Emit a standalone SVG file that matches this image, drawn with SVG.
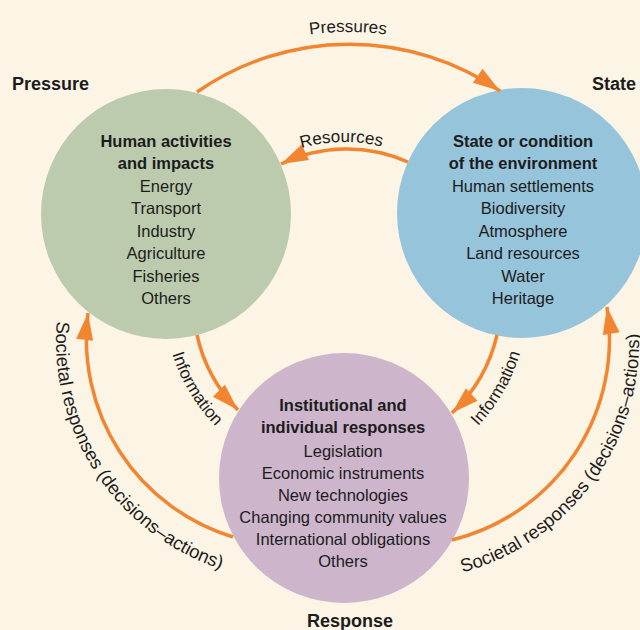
<svg xmlns="http://www.w3.org/2000/svg" width="640" height="630" viewBox="0 0 640 630">
<style>
.bg{fill:#fcf4e4}
.t{font-family:"Liberation Sans",Arial,sans-serif;font-size:16.5px;fill:#1c1c1c;text-anchor:middle}
.b{font-weight:bold}
.h{font-family:"Liberation Sans",Arial,sans-serif;font-size:18px;font-weight:bold;fill:#1c1c1c}
.lbl{font-family:"Liberation Sans",Arial,sans-serif;font-size:17px;fill:#1c1c1c;text-anchor:middle}
.soc{font-size:18.5px}
.arc{fill:none;stroke:#f28530;stroke-width:3.5}
</style>
<defs>
<marker id="ah" markerUnits="userSpaceOnUse" markerWidth="32" markerHeight="22" viewBox="-30 -11 32 22" refX="0" refY="0" orient="auto">
<path d="M0,0 L-27,-8.5 L-27,8.5 Z" fill="#f28530"/>
</marker>
<path id="pPress" d="M226,60 A279,279 0 0 1 470,60"/>
<path id="pRes" d="M271.5,160 A157,157 0 0 1 417.5,160"/>
<path id="pInfoL" d="M166.7,331.3 A180,180 0 0 0 233.2,441.8"/>
<path id="pInfoR" d="M459.8,443 A184,184 0 0 0 525.7,328.8"/>
<path id="pSocL" d="M64.2,278.9 A240,240 0 0 0 262.6,578.7"/>
<path id="pSocR" d="M432.4,578.7 A240,240 0 0 0 633.8,291.1"/>
</defs>
<rect class="bg" x="0" y="0" width="640" height="630"/>

<g id="pressure">
<circle cx="166" cy="214" r="125" fill="#bccbad"/>
<text class="h" x="12" y="90">Pressure</text>
<text class="t b" x="166" y="147">Human activities</text>
<text class="t b" x="166" y="169">and impacts</text>
<text class="t" x="166" y="192">Energy</text>
<text class="t" x="166" y="214">Transport</text>
<text class="t" x="166" y="237">Industry</text>
<text class="t" x="166" y="259">Agriculture</text>
<text class="t" x="166" y="282">Fisheries</text>
<text class="t" x="166" y="304">Others</text>
</g>

<g id="state">
<circle cx="522" cy="213" r="125" fill="#96c4db"/>
<text class="h" x="592" y="90">State</text>
<text class="t b" x="523" y="147">State or condition</text>
<text class="t b" x="523" y="169">of the environment</text>
<text class="t" x="523" y="192">Human settlements</text>
<text class="t" x="523" y="214">Biodiversity</text>
<text class="t" x="523" y="237">Atmosphere</text>
<text class="t" x="523" y="259">Land resources</text>
<text class="t" x="523" y="282">Water</text>
<text class="t" x="523" y="304">Heritage</text>
</g>

<g id="response">
<circle cx="344" cy="478" r="125" fill="#cdb5cc"/>
<text class="h" x="350" y="627" text-anchor="middle">Response</text>
<text class="t b" x="343" y="411">Institutional and</text>
<text class="t b" x="343" y="433">individual responses</text>
<text class="t" x="343" y="457">Legislation</text>
<text class="t" x="343" y="479">Economic instruments</text>
<text class="t" x="343" y="501">New technologies</text>
<text class="t" x="343" y="523">Changing community values</text>
<text class="t" x="343" y="545">International obligations</text>
<text class="t" x="343" y="567">Others</text>
</g>

<g id="connectors">
<path class="arc" d="M197,92 A266,266 0 0 1 500,91" marker-end="url(#ah)"/>
<path class="arc" d="M408,162 A151,151 0 0 0 281,164" marker-end="url(#ah)"/>
<path class="arc" d="M197,335 A153,153 0 0 0 238,410" marker-end="url(#ah)"/>
<path class="arc" d="M497,335 A155,155 0 0 1 452,413" marker-end="url(#ah)"/>
<path class="arc" d="M233,537 A207,207 0 0 1 88,313" marker-end="url(#ah)"/>
<path class="arc" d="M452,540 A207,207 0 0 0 607,307" marker-end="url(#ah)"/>
<text class="lbl"><textPath href="#pPress" startOffset="50%">Pressures</textPath></text>
<text class="lbl"><textPath href="#pRes" startOffset="48%">Resources</textPath></text>
<text class="lbl"><textPath href="#pInfoL" startOffset="50%">Information</textPath></text>
<text class="lbl"><textPath href="#pInfoR" startOffset="50%">Information</textPath></text>
<text class="lbl soc"><textPath href="#pSocL" startOffset="50%">Societal responses (decisions–actions)</textPath></text>
<text class="lbl soc"><textPath href="#pSocR" startOffset="48.5%">Societal responses (decisions–actions)</textPath></text>
</g>
</svg>
